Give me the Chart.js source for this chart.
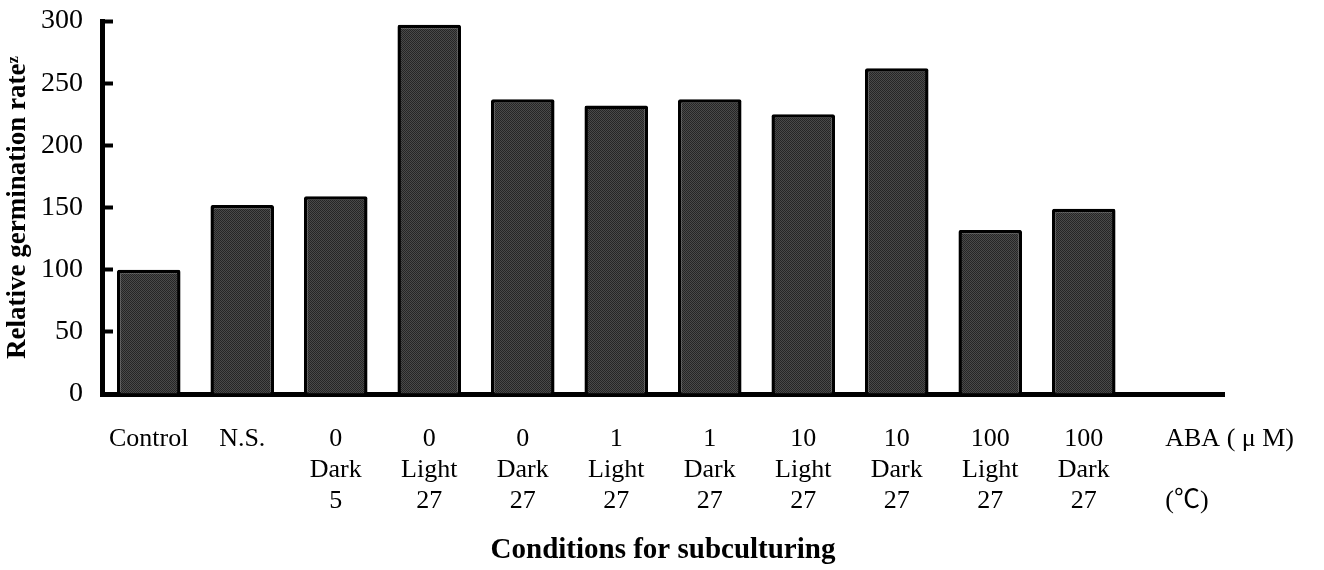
<html>
<head>
    <title>Relative germination rate</title>
    <script src="https://cdn.jsdelivr.net/npm/chart.js@4/dist/chart.umd.min.js"></script>
    <style>
        body { margin: 0; background: #fff; }
        #wrap { width: 1324px; height: 570px; }
    </style>
</head>
<body>
<div id="wrap"><canvas id="myChart" width="1324" height="570"></canvas></div>

<script type="text/javascript">
// conditions: ABA (uM) / light / temperature
var categories = [
    ["Control"], ["N.S."],
    ["0", "Dark", "5"], ["0", "Light", "27"], ["0", "Dark", "27"],
    ["1", "Light", "27"], ["1", "Dark", "27"],
    ["10", "Light", "27"], ["10", "Dark", "27"],
    ["100", "Light", "27"], ["100", "Dark", "27"],
    [""]
]
var germination = [100, 152, 159, 297, 237, 232, 237, 225, 262, 132, 149, null]
var yTicks = [0, 50, 100, 150, 200, 250, 300]
var rowNames = ["ABA ( \u03bc M)", "", "(\u2103)"]

var serif = "'Liberation Serif', 'Times New Roman', 'Noto Sans CJK SC', serif"
var lineH = 31

// stippled dark fill like the printed bars
function stipple() {
    var c = document.createElement("canvas")
    c.width = 2; c.height = 2
    var g = c.getContext("2d")
    g.fillStyle = "#4a4a4a"; g.fillRect(0, 0, 2, 2)
    g.fillStyle = "#262626"; g.fillRect(0, 0, 1, 1); g.fillRect(1, 1, 1, 1)
    return g.createPattern(c, "repeat")
}

// row captions to the right of the last bar
var rowCaptions = {
    id: "rowCaptions",
    afterDraw: function(chart) {
        var ctx = chart.ctx
        var x = chart.scales.x.getPixelForValue(categories.length - 1) - 12
        var top = chart.scales.x.top + 30
        ctx.save()
        ctx.fillStyle = "#000"
        ctx.font = "26px " + serif
        ctx.textAlign = "left"
        ctx.textBaseline = "middle"
        for (var i = 0; i < rowNames.length; i++) {
            ctx.fillText(rowNames[i], x, top + lineH / 2 + i * lineH)
        }
        ctx.restore()
    }
}

var ctx = document.getElementById("myChart")
var chart = new Chart(ctx, {
    type: "bar",
    data: {
        labels: categories,
        datasets: [{
            data: germination,
            backgroundColor: stipple(),
            borderColor: "#000",
            borderWidth: 3.5,
            borderRadius: 2,
            borderSkipped: "bottom",
            categoryPercentage: 1.0,
            barPercentage: 0.68
        }]
    },
    options: {
        responsive: false,
        animation: false,
        layout: { padding: { top: 21, right: 100, left: 0, bottom: 0 } },
        plugins: { legend: { display: false }, tooltip: { enabled: false } },
        scales: {
            x: {
                afterFit: function(s) { s.height = 176; s.paddingLeft = 0; s.paddingRight = 0 },
                grid: { display: true, drawOnChartArea: false, drawTicks: false },
                border: { display: true, color: "#000", width: 5 },
                ticks: {
                    color: "#000",
                    font: { family: serif, size: 26, lineHeight: lineH + "px" },
                    padding: 30,
                    maxRotation: 0,
                    autoSkip: false
                },
                title: {
                    display: true,
                    text: "Conditions for subculturing",
                    color: "#000",
                    font: { family: serif, size: 29, weight: "bold" },
                    padding: { top: 0, bottom: 2 }
                }
            },
            y: {
                min: 0,
                max: 300,
                afterFit: function(s) { s.width = 102; s.paddingTop = 0; s.paddingBottom = 0 },
                afterBuildTicks: function(s) { s.ticks = yTicks.map(function(v) { return { value: v } }) },
                grid: { drawOnChartArea: false, drawTicks: true, tickLength: -11, tickWidth: 4, tickColor: "#000" },
                border: { display: true, color: "#000", width: 5 },
                ticks: {
                    color: "#000",
                    font: { family: serif, size: 28 },
                    padding: 30
                },
                title: {
                    display: true,
                    text: "Relative germination rate\u1dbb",
                    color: "#000",
                    font: { family: serif, size: 27, weight: "bold" },
                    padding: { top: 2, bottom: 0 }
                }
            }
        }
    },
    plugins: [rowCaptions]
})
</script>

</body>
</html>
